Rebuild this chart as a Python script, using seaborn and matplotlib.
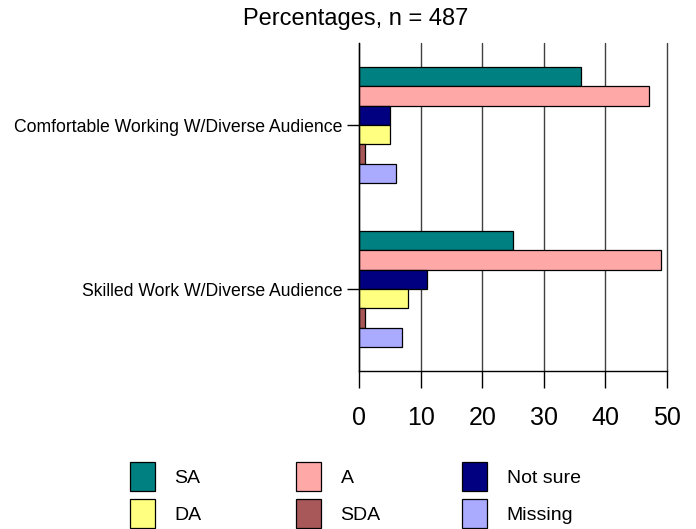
import seaborn as sns
import matplotlib.pyplot as plt
import pandas as pd

# survey items and response levels
items = [
    "Comfortable Working W/Diverse Audience",
    "Skilled Work W/Diverse Audience",
]
responses = ["SA", "A", "Not sure", "DA", "SDA", "Missing"]

# percentages, one list per item (same order as responses)
comfortable_pct = [36, 47, 5, 5, 1, 6]
skilled_pct = [25, 49, 11, 8, 1, 7]

colors = ["#008080", "#FFA8A8", "#000080", "#FFFF80", "#A85858", "#AAAAFF"]

rows = []
for item, vals in zip(items, [comfortable_pct, skilled_pct]):
    for resp, v in zip(responses, vals):
        rows.append({"item": item, "response": resp, "pct": v})
df = pd.DataFrame(rows)

sns.set_style("white")
plt.rcParams["font.family"] = ["Liberation Sans", "DejaVu Sans"]
plt.rcParams["text.color"] = "black"
plt.rcParams["xtick.color"] = "black"
plt.rcParams["ytick.color"] = "black"

fig = plt.figure(figsize=(6.96, 5.29), dpi=100)
ax = fig.add_axes([359 / 696, 1 - 371 / 529, 308 / 696, 328 / 529])

sns.barplot(
    data=df, x="pct", y="item", hue="response",
    order=items, hue_order=responses, palette=colors, saturation=1,
    orient="h", width=0.705, edgecolor="black", linewidth=0.9,
    legend=True, ax=ax,
)

ax.set_xlim(0, 50)
ax.set_xticks([0, 10, 20, 30, 40, 50])
ax.set_xlabel("")
ax.set_ylabel("")
ax.xaxis.grid(True, color="#404040", linewidth=1)
for gl in ax.get_xgridlines():
    gl.set_clip_on(False)
ax.set_axisbelow(True)
for s in ["top", "right"]:
    ax.spines[s].set_visible(False)
for s in ["left", "bottom"]:
    ax.spines[s].set_color("black")
    ax.spines[s].set_linewidth(1)

ax.tick_params(axis="x", labelsize=18, length=12, width=1, pad=13, bottom=True)
ax.tick_params(axis="y", labelsize=12.7, length=9, width=1, pad=3, left=True)

fig.suptitle("Percentages, n = 487", x=356 / 696, y=1 - 8 / 529, va="top", fontsize=17)

# legend: three columns of two entries each
handles, labels = ax.get_legend_handles_labels()
ax.get_legend().remove()
col_x = [130, 296, 462]
for c, x0 in enumerate(col_x):
    pair = [c, c + 3]
    fig.legend(
        [handles[i] for i in pair], [labels[i] for i in pair],
        loc="upper left", bbox_to_anchor=(x0 / 696, 1 - 462 / 529),
        frameon=False, fontsize=14, handlelength=1.29, handleheight=1.93,
        handletextpad=1.0, labelspacing=0.4, borderpad=0, borderaxespad=0,
    )

fig.savefig("out.png", dpi=100)
